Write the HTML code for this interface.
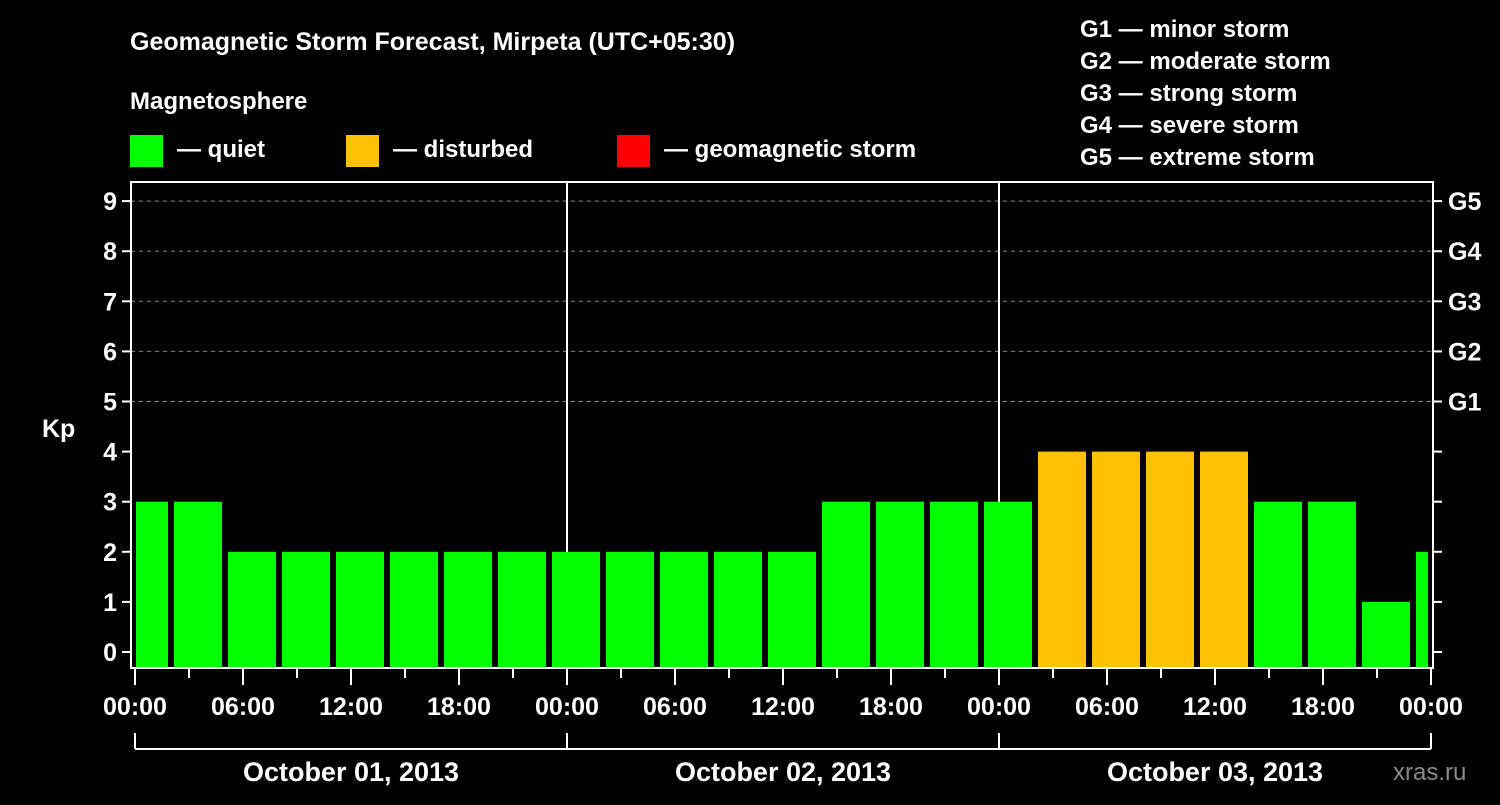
<!DOCTYPE html>
<html><head><meta charset="utf-8"><style>
body{margin:0;background:#000;}
svg text{font-family:"Liberation Sans",Arial,sans-serif;font-weight:bold;fill:#fff;}
</style></head><body>
<svg id="chart" width="1500" height="800" xmlns="http://www.w3.org/2000/svg">
<rect width="1500" height="800" fill="#000"/>
<text x="130" y="50" font-size="25">Geomagnetic Storm Forecast, Mirpeta (UTC+05:30)</text>
<text x="130" y="109" font-size="24">Magnetosphere</text>
<g><rect x="130" y="135" width="33" height="32" fill="#00ff00"/><text x="177" y="157" font-size="24">— quiet</text></g>
<g><rect x="346" y="135" width="33" height="32" fill="#ffc000"/><text x="393" y="157" font-size="24">— disturbed</text></g>
<g><rect x="617" y="135" width="33" height="32" fill="#ff0000"/><text x="664" y="157" font-size="24">— geomagnetic storm</text></g>
<g font-size="24">
<text x="1080" y="37">G1 — minor storm</text>
<text x="1080" y="69">G2 — moderate storm</text>
<text x="1080" y="101">G3 — strong storm</text>
<text x="1080" y="133">G4 — severe storm</text>
<text x="1080" y="165">G5 — extreme storm</text>
</g>
<text x="42" y="437" font-size="25">Kp</text>
<g id="grid"></g><g id="bars"></g><g id="axes"></g>
<text x="1393" y="780" font-size="24" fill="#888" style="fill:#8a8a8a;font-weight:normal">xras.ru</text>
</svg>
<script>
const kpValues=[3,3,2,2,2,2,2,2,2,2,2,2,2,3,3,3,3,4,4,4,4,3,3,1,2];
const yTicks=[0,1,2,3,4,5,6,7,8,9];
const gLabels=["G1","G2","G3","G4","G5"];
const xLabels=["00:00","06:00","12:00","18:00","00:00","06:00","12:00","18:00","00:00","06:00","12:00","18:00","00:00"];
const dayLabels=["October 01, 2013","October 02, 2013","October 03, 2013"];
const NS="http://www.w3.org/2000/svg";
const L=131,R=1433,T=182,B=668;
const y=v=>652-50.1*v;
const x=h=>135+18*h; // hours since start
function mk(t,a,p){const e=document.createElementNS(NS,t);for(const k in a)e.setAttribute(k,a[k]);p.appendChild(e);return e;}
const grid=document.getElementById('grid'),bars=document.getElementById('bars'),axes=document.getElementById('axes');
for(let v=5;v<=9;v++){const l=mk('line',{x1:L,x2:R,y1:y(v),y2:y(v),stroke:'#888','stroke-dasharray':'4,4','stroke-width':1},grid);
}
[24,48].forEach(h=>{const l=mk('line',{x1:x(h),x2:x(h),y1:T,y2:B,stroke:'#fff','stroke-width':2},grid);
});
kpValues.forEach((v,i)=>{
 let x0=x(3*i)-15,x1=x0+48;
 x0=Math.max(x0,L+5);x1=Math.min(x1,R-5);
 const c=v>=5?'#ff0000':(v>=4?'#ffc000':'#00ff00');
 const r=mk('rect',{x:x0,y:y(v),width:x1-x0,height:B-1-y(v),fill:c},bars);
 
});
const f=mk('rect',{x:L,y:T,width:R-L,height:B-T,fill:'none',stroke:'#fff','stroke-width':2},axes);

yTicks.forEach(v=>{
 mk('line',{x1:L-9,x2:L,y1:y(v),y2:y(v),stroke:'#fff','stroke-width':2},axes);
 mk('line',{x1:R,x2:R+9,y1:y(v),y2:y(v),stroke:'#fff','stroke-width':2},axes);
 const t=mk('text',{x:L-14,y:y(v)+9,'font-size':25,'text-anchor':'end'},axes);t.textContent=v;
 
});
gLabels.forEach((g,i)=>{const t=mk('text',{x:1448,y:y(5+i)+9,'font-size':25},axes);t.textContent=g;
 });
for(let h=0;h<=72;h+=3){const maj=h%6==0;mk('line',{x1:x(h),x2:x(h),y1:B,y2:B+(maj?17:10),stroke:'#fff','stroke-width':2},axes);}
xLabels.forEach((s,i)=>{const t=mk('text',{x:x(6*i),y:715,'font-size':25,'text-anchor':'middle'},axes);t.textContent=s;
 });
mk('line',{x1:x(0),x2:x(72),y1:749,y2:749,stroke:'#fff','stroke-width':2},axes);
[0,24,48,72].forEach(h=>mk('line',{x1:x(h),x2:x(h),y1:733,y2:749,stroke:'#fff','stroke-width':2},axes));
dayLabels.forEach((s,i)=>{const t=mk('text',{x:x(24*i+12),y:781,'font-size':27,'text-anchor':'middle'},axes);t.textContent=s;
 });
</script>
</body></html>
